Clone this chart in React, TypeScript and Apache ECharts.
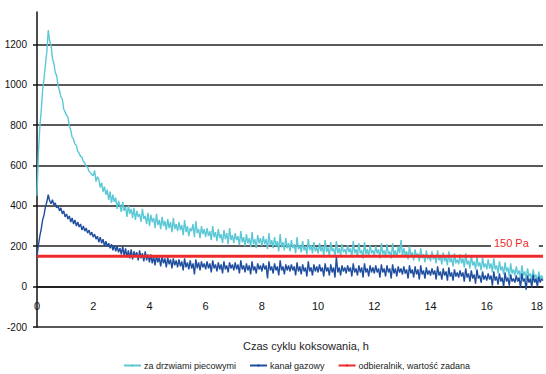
import React, { useEffect, useRef } from "react";
import * as echarts from "echarts";

const STEP = 0.05; // h between samples
const X_TICKS = { min: 0, max: 18, interval: 2 };
const Y_TICKS = { min: -200, max: 1360, interval: 200 };

const DOOR = [
  450, 660, 790, 870, 975, 1030, 1100, 1165, 1270, 1215, 1195, 1130, 1105, 1060, 1045, 995, 970, 940, 930, 880,
  865, 848, 840, 795, 775, 740, 730, 705, 700, 670, 660, 645, 640, 620, 612, 595, 592, 570, 565, 555,
  550, 575, 520, 545, 530, 490, 515, 470, 495, 455, 480, 430, 470, 415, 455, 420, 440, 385, 425, 400,
  370, 420, 375, 395, 345, 400, 360, 385, 340, 390, 330, 375, 345, 360, 320, 385, 335, 350, 310, 365,
  300, 355, 320, 340, 290, 360, 305, 330, 285, 345, 300, 325, 280, 335, 290, 320, 270, 340, 285, 310,
  275, 320, 280, 305, 255, 330, 270, 300, 250, 290, 275, 310, 245, 325, 265, 285, 240, 300, 260, 285,
  245, 290, 250, 275, 230, 300, 245, 270, 225, 285, 240, 260, 215, 280, 235, 265, 210, 290, 230, 255,
  215, 265, 230, 250, 205, 275, 220, 245, 200, 260, 215, 240, 195, 270, 210, 235, 190, 255, 215, 240,
  200, 250, 210, 235, 185, 265, 205, 230, 190, 245, 200, 225, 175, 260, 195, 220, 180, 240, 190, 215,
  175, 230, 190, 210, 165, 245, 185, 205, 170, 225, 180, 200, 160, 235, 180, 205, 165, 220, 175, 195,
  165, 215, 175, 200, 155, 230, 170, 195, 150, 220, 175, 190, 150, 225, 165, 190, 155, 210, 170, 185,
  160, 205, 170, 190, 145, 225, 165, 185, 150, 215, 165, 180, 140, 220, 160, 185, 150, 205, 165, 180,
  155, 200, 165, 185, 140, 215, 160, 180, 145, 210, 160, 175, 140, 215, 155, 180, 145, 200, 165, 230,
  150, 190, 155, 175, 135, 200, 150, 170, 130, 185, 145, 165, 125, 190, 140, 160, 120, 180, 135, 155,
  125, 175, 135, 155, 115, 180, 130, 150, 110, 170, 125, 145, 105, 175, 120, 140, 100, 165, 115, 135,
  110, 160, 115, 140, 95, 165, 110, 130, 90, 155, 105, 125, 85, 150, 100, 120, 80, 145, 95, 115,
  85, 135, 90, 115, 70, 140, 85, 105, 65, 125, 80, 100, 60, 120, 75, 95, 50, 115, 65, 85,
  55, 100, 60, 80, 40, 105, 55, 75, 35, 90, 50, 65, 25, 85, 45, 60, 20, 75, 40, 55,
  40,
];

const CHANNEL = [
  150, 205, 250, 285, 330, 355, 395, 420, 455, 425, 410, 430, 405, 415, 390, 400, 375, 390, 360, 375,
  345, 360, 335, 350, 320, 340, 310, 330, 300, 320, 295, 310, 280, 300, 275, 290, 265, 280, 255, 270,
  245, 260, 235, 250, 220, 245, 215, 235, 200, 225, 200, 215, 190, 210, 180, 205, 175, 200, 170, 190,
  160, 200, 150, 190, 145, 180, 140, 185, 135, 175, 150, 170, 130, 180, 140, 165, 125, 175, 130, 160,
  120, 160, 115, 150, 105, 155, 120, 145, 100, 150, 115, 140, 95, 145, 110, 135, 90, 140, 105, 130,
  95, 135, 100, 125, 80, 140, 95, 120, 85, 130, 90, 115, 60, 135, 90, 120, 80, 125, 95, 115,
  85, 125, 90, 115, 70, 130, 90, 110, 75, 120, 85, 110, 65, 125, 85, 105, 70, 120, 90, 110,
  80, 120, 85, 110, 65, 130, 85, 105, 70, 115, 80, 105, 60, 125, 80, 100, 65, 115, 85, 105,
  75, 115, 85, 105, 40, 125, 80, 100, 65, 115, 80, 100, 55, 130, 80, 100, 60, 110, 80, 105,
  75, 110, 80, 100, 55, 120, 75, 100, 60, 110, 75, 95, 50, 125, 75, 95, 55, 110, 75, 100,
  70, 110, 75, 95, 50, 115, 75, 95, 55, 110, 70, 95, 45, 150, 70, 95, 55, 105, 75, 95,
  65, 105, 75, 95, 50, 115, 70, 90, 55, 105, 70, 95, 45, 115, 70, 90, 50, 105, 70, 95,
  65, 105, 70, 90, 45, 110, 70, 90, 50, 105, 70, 90, 40, 110, 65, 90, 50, 100, 70, 90,
  60, 100, 65, 85, 40, 105, 65, 85, 45, 100, 60, 85, 35, 105, 60, 80, 40, 95, 60, 80,
  55, 90, 60, 80, 35, 100, 55, 75, 35, 90, 55, 75, 30, 95, 50, 70, 30, 85, 50, 70,
  45, 80, 50, 70, 25, 90, 45, 65, 25, 80, 40, 60, 15, 85, 40, 55, 20, 75, 35, 55,
  30, 65, 35, 55, 5, 75, 30, 50, 10, 65, 25, 45, 0, 70, 25, 45, 5, 60, 25, 40,
  20, 55, 25, 45, -5, 65, 25, 40, -15, 55, 20, 40, -5, 60, 20, 40, 0, 50, 20, 40,
  30,
];

const SETPOINT_T = [0, 18];
const SETPOINT_V = [150, 150];
const SETPOINT_LABEL = "150 Pa";
const SETPOINT_LABEL_AT = 17.0;

const NAMES = ["za drzwiami piecowymi", "kanał gazowy", "odbieralnik, wartość zadana"];
const X_NAME = "Czas cyklu koksowania, h";

const FONT = "Liberation Sans, Arial, sans-serif";

const GRID_TOP = 12;
const GRID_BOTTOM = 47;
const CHART_H = 374;

export default function App() {
  const ref = useRef<HTMLDivElement>(null);
  useEffect(() => {
    if (!ref.current) return;
    const chart = echarts.init(ref.current, undefined, { renderer: "svg" });
    const toPairs = (arr: number[]) => arr.map((v, i) => [+(i * STEP).toFixed(2), v]);
    // shift the x axis (line + labels) up to the value 0 of the y axis
    const plotH = CHART_H - GRID_TOP - GRID_BOTTOM;
    const zeroOffset = -((0 - Y_TICKS.min) / (Y_TICKS.max - Y_TICKS.min)) * plotH;
    chart.setOption({
      animation: false,
      textStyle: { fontFamily: FONT },
      grid: {
        left: 37,
        right: 3,
        top: GRID_TOP,
        bottom: GRID_BOTTOM,
        containLabel: false,
        outerBoundsMode: "none",
      },
      legend: {
        bottom: -1,
        left: 118,
        itemWidth: 17,
        itemHeight: 3,
        itemGap: 13,
        textStyle: { fontSize: 9, color: "#222", fontFamily: FONT, padding: [0, 0, 0, -2] },
        data: NAMES,
      },
      xAxis: {
        type: "value",
        min: X_TICKS.min,
        max: X_TICKS.max,
        interval: X_TICKS.interval,
        offset: zeroOffset,
        name: X_NAME,
        nameLocation: "middle",
        nameGap: 54,
        nameTextStyle: { fontSize: 11, color: "#222", padding: [0, 0, 0, 32] },
        axisLine: { onZero: false, lineStyle: { color: "#111", width: 1.5 } },
        axisTick: { show: false },
        splitLine: { show: false },
        axisLabel: { fontSize: 11, color: "#111", margin: 14, alignMaxLabel: "right" },
      },
      yAxis: {
        type: "value",
        min: Y_TICKS.min,
        max: Y_TICKS.max,
        interval: Y_TICKS.interval,
        axisLine: { show: true, lineStyle: { color: "#111", width: 1.5 } },
        axisTick: { show: true, length: 4, lineStyle: { color: "#111", width: 1.5 } },
        splitLine: { show: true, showMaxLine: false, lineStyle: { color: "#222", width: 1.5 } },
        axisLabel: {
          fontSize: 10,
          color: "#111",
          margin: 10,
          showMaxLabel: false,
          formatter: (v: number) => String(v),
        },
      },
      series: [
        {
          name: NAMES[0],
          type: "line",
          data: toPairs(DOOR),
          symbol: "none",
          color: "#5BC8D6",
          lineStyle: { width: 1.4, color: "#5BC8D6" },
        },
        {
          name: NAMES[1],
          type: "line",
          data: toPairs(CHANNEL),
          symbol: "none",
          color: "#1F4E9E",
          lineStyle: { width: 1.4, color: "#1F4E9E" },
        },
        {
          name: NAMES[2],
          type: "line",
          data: SETPOINT_T.map((t, i) => [t, SETPOINT_V[i]]),
          symbol: "none",
          color: "#EE2A2A",
          lineStyle: { width: 3, color: "#EE2A2A" },
          markPoint: {
            symbol: "circle",
            symbolSize: 0,
            data: [{ coord: [SETPOINT_LABEL_AT, SETPOINT_V[0]] }],
            label: {
              show: true,
              formatter: SETPOINT_LABEL,
              color: "#EE2A2A",
              fontSize: 11,
              offset: [0, -13],
              backgroundColor: "#fff",
              padding: [1, 10, 1, 3],
            },
          },
        },
      ],
    });
    return () => chart.dispose();
  }, []);
  return (
    <div
      ref={ref}
      style={{ position: "absolute", left: 0, top: 0, width: 546, height: 374, background: "#fff" }}
    />
  );
}
